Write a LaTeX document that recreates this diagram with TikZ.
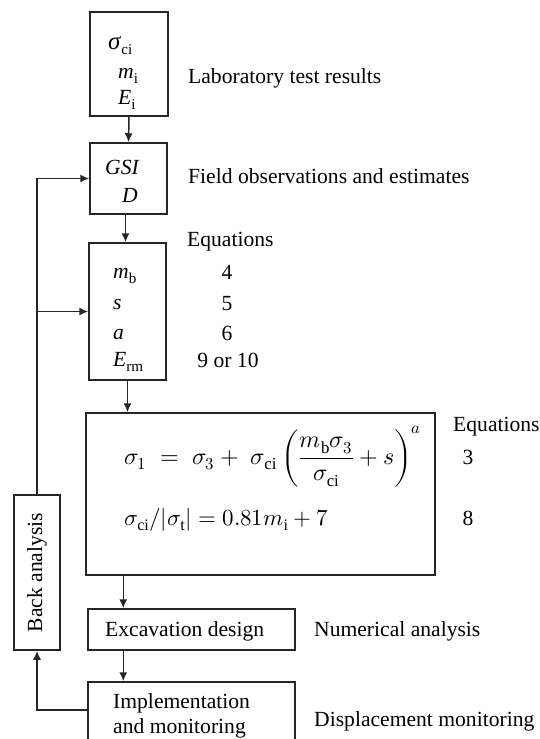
\documentclass[tikz,border=0pt]{standalone}
\usepackage{amsmath}
\usepackage{fontspec}
\usepackage{unicode-math}
\setmainfont{Liberation Serif}
\usetikzlibrary{arrows.meta,positioning,calc}

\newcommand{\vsub}[2]{\textit{#1}\textsubscript{#2}}

\begin{document}
\begin{tikzpicture}[x=1pt,y=-1pt,>={Latex[length=9pt,width=8pt]},
  font=\fontsize{21.6}{25}\selectfont,
  box/.style={draw=black!85,line width=1.5pt,inner sep=0pt},
  flow/.style={->,draw=black!85,line width=1.5pt},
  txt/.style={anchor=base west,inner sep=0pt},
  num/.style={anchor=base,inner sep=0pt},
  eqn/.style={anchor=base west,inner sep=0pt,font=\fontsize{24}{28}\selectfont}]
  \useasboundingbox (0,0) rectangle (539,739);
  \clip (0,0) rectangle (539,739);
  % boxes
  \node[box,minimum width=78,minimum height=104] (lab) at (129,64) {};
  \node[box,minimum width=77,minimum height=71] (gsi) at (128.5,178.5) {};
  \node[box,minimum width=77,minimum height=137] (par) at (127.5,311.5) {};
  \node[box,minimum width=349,minimum height=162] (eqs) at (260.5,494) {};
  \node[box,minimum width=207,minimum height=41] (exc) at (191.5,629.5) {};
  \node[box,minimum width=207,minimum height=80] (imp) at (191.5,722) {};
  \node[box,minimum width=46,minimum height=155] (back) at (37,572.5) {};
  % box contents
  \node[txt] (sci) at (108,49) {{\fontsize{25}{25}\selectfont\textit{σ}}\textsubscript{ci}};
  \node[txt] (mi) at (118,78) {\vsub{m}{i}};
  \node[txt] (Ei) at (118,104) {\vsub{E}{i}};
  \node[txt] (gsitxt) at (105,174) {\textit{GSI}};
  \node[txt] (Dtxt) at (122,202) {\textit{D}};
  \node[txt] (mb) at (113,278) {\vsub{m}{b}};
  \node[txt] (stxt) at (113,309) {\textit{s}};
  \node[txt] (atxt) at (113,339) {\textit{a}};
  \node[txt] (Erm) at (113,366) {\vsub{E}{rm}};
  \node[eqn] (hoek) at (124,464)
    {$\sigma_1 \;=\; \sigma_3 +\; \sigma_{\mathrm{ci}}\left(\dfrac{m_{\mathrm{b}}\sigma_3}{\sigma_{\mathrm{ci}}}+s\right)^{a}$};
  \node[eqn,font=\fontsize{23}{27}\selectfont] (ratio) at (124,525)
    {$\sigma_{\mathrm{ci}}/|\sigma_{\mathrm{t}}| = 0.81m_{\mathrm{i}}+7$};
  \node[txt] (exctxt) at (105,636) {Excavation design};
  \node[txt] (imptxt) at (113,708) {Implementation};
  \node[txt] (imptxt2) at (113,733) {and monitoring};
  \node[rotate=90] (backtxt) at (back) {Back analysis};
  % side labels
  \node[txt] (labnote) at (188,83) {Laboratory test results};
  \node[txt] (fieldnote) at (188,183) {Field observations and estimates};
  \node[txt] (eqhead) at (187,246) {Equations};
  \node[num] (n4) at (227,279) {4};
  \node[num] (n5) at (227,310) {5};
  \node[num] (n6) at (227,340) {6};
  \node[num] (n9) at (228,367) {9 or 10};
  \node[txt] (eqhead2) at (453,431) {Equations};
  \node[num] (n3) at (468,464) {3};
  \node[num] (n8) at (468,525) {8};
  \node[txt] (numnote) at (314,636) {Numerical analysis};
  \node[txt] (dispnote) at (314,726) {Displacement monitoring};
  % connectors
  \draw[flow] (lab.south) -- (gsi.north);
  \draw[flow] ([xshift=-3pt]gsi.south) -- ([xshift=-3pt]gsi.south |- par.north);
  \draw[flow] (par.south) -- (par.south |- eqs.north);
  \draw[flow] ([xshift=36pt]exc.north west |- eqs.south) -- ([xshift=36pt]exc.north west);
  \draw[flow] ([xshift=36pt]exc.south west) -- ([xshift=36pt]imp.north west);
  \draw[flow] ([yshift=12pt]imp.west) -| (back.south);
  \draw[flow] (back.north) |- (gsi.west);
  \draw[flow] (back.north |- par.west) -- (par.west);
\end{tikzpicture}
\end{document}
